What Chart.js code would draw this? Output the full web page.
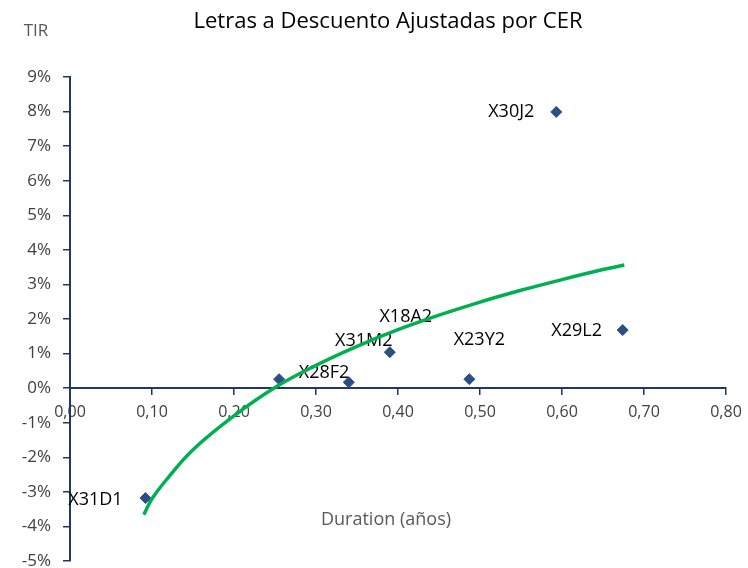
<!DOCTYPE html>
<html>
<head>
<meta charset="utf-8">
<script src="https://cdn.jsdelivr.net/npm/chart.js@4.4.1/dist/chart.umd.min.js"></script>
<style>
  html, body { margin: 0; padding: 0; background: #ffffff; }
  #wrap { width: 748px; height: 568px; }
</style>
</head>
<body>
<div id="wrap"><canvas id="grafica" width="748" height="568"></canvas></div>
<script>
// Letras (nombre, duration en años, TIR en %)
const letras = ['X31D1', 'X28F2', 'X31M2', 'X18A2', 'X23Y2', 'X30J2', 'X29L2'];
const duration = [0.092, 0.255, 0.340, 0.390, 0.487, 0.593, 0.674];
const tir = [-3.18, 0.26, 0.17, 1.04, 0.26, 7.99, 1.68];

// Curva de tendencia
const curvaX = [0.090, 0.100, 0.120, 0.150, 0.200, 0.250, 0.300, 0.350, 0.400, 0.450, 0.500, 0.550, 0.600, 0.650, 0.676];
const curvaY = [-3.66, -3.20, -2.58, -1.78, -0.80, 0.02, 0.66, 1.21, 1.69, 2.11, 2.49, 2.83, 3.14, 3.43, 3.56];

const textoTitulo = 'Letras a Descuento Ajustadas por CER';
const textoEjeY = 'TIR';
const textoEjeX = 'Duration (años)';

const azulEje = '#1F3864';
const grisTexto = '#404040';
const fuente = "'Open Sans', 'Noto Sans', sans-serif";

// desplazamiento de cada etiqueta respecto de su punto (px)
const desplazEtiquetas = [[-50, 2], [45, -6], [15, -41], [16, -35], [10, -39], [-45, 0], [-46, 1]];

const puntos = duration.map((d, i) => ({ x: d, y: tir[i] }));
const curva = curvaX.map((d, i) => ({ x: d, y: curvaY[i] }));

const textosPlugin = {
    id: 'textosPlugin',
    beforeDatasetsDraw(chart) {
        const ctx = chart.ctx;
        const meta = chart.getDatasetMeta(1);
        ctx.save();
        ctx.font = '18px ' + fuente;
        ctx.fillStyle = '#000000';
        ctx.textAlign = 'center';
        ctx.textBaseline = 'middle';
        meta.data.forEach((el, i) => {
            const off = desplazEtiquetas[i];
            ctx.fillText(letras[i], el.x + off[0], el.y + off[1]);
        });
        ctx.restore();
    },
    afterDraw(chart) {
        const ctx = chart.ctx;
        ctx.save();
        ctx.textAlign = 'center';
        ctx.textBaseline = 'middle';
        ctx.fillStyle = '#000000';
        ctx.font = '22px ' + fuente;
        ctx.fillText(textoTitulo, 388, 22);
        ctx.fillStyle = '#595959';
        ctx.font = '17px ' + fuente;
        ctx.fillText(textoEjeY, 36, 31);
        ctx.font = '18px ' + fuente;
        ctx.fillText(textoEjeX, 386, 520);
        ctx.restore();
    }
};

new Chart(document.getElementById('grafica').getContext('2d'), {
    type: 'scatter',
    data: {
        datasets: [{
            label: 'Tendencia',
            data: curva,
            showLine: true,
            borderColor: '#00B050',
            borderWidth: 3.5,
            pointRadius: 0,
            tension: 0.4,
            fill: false
        }, {
            label: 'Letras',
            data: puntos,
            pointStyle: 'rectRot',
            pointRadius: 5.5,
            backgroundColor: '#2A4F86',
            borderColor: '#2A4F86',
            borderWidth: 1
        }]
    },
    options: {
        responsive: false,
        animation: false,
        layout: { padding: { left: 0, right: 22, top: 77, bottom: 7 } },
        plugins: {
            legend: { display: false },
            tooltip: { enabled: false }
        },
        scales: {
            x: {
                type: 'linear',
                position: { y: 0 },
                min: 0, max: 0.8,
                border: { color: azulEje, width: 2 },
                grid: { display: true, drawOnChartArea: false, drawTicks: true, tickLength: 6, color: azulEje, lineWidth: 1.5 },
                ticks: {
                    stepSize: 0.1, padding: 9, color: grisTexto,
                    font: { family: fuente, size: 16 },
                    callback: v => v.toFixed(2).replace('.', ',')
                },
                afterFit(scale) {
                    scale.paddingLeft = 0;
                    scale.paddingRight = 0;
                }
            },
            y: {
                type: 'linear',
                min: -5, max: 9,
                border: { color: azulEje, width: 2 },
                grid: { display: true, drawOnChartArea: false, drawTicks: true, tickLength: 7, color: azulEje, lineWidth: 1.5 },
                ticks: {
                    stepSize: 1, padding: 12, color: grisTexto,
                    font: { family: fuente, size: 17 },
                    callback: v => v + '%'
                },
                afterFit(scale) {
                    scale.width = 70;
                    scale.paddingTop = 0;
                    scale.paddingBottom = 0;
                }
            }
        }
    },
    plugins: [textosPlugin]
});
</script>
</body>
</html>
